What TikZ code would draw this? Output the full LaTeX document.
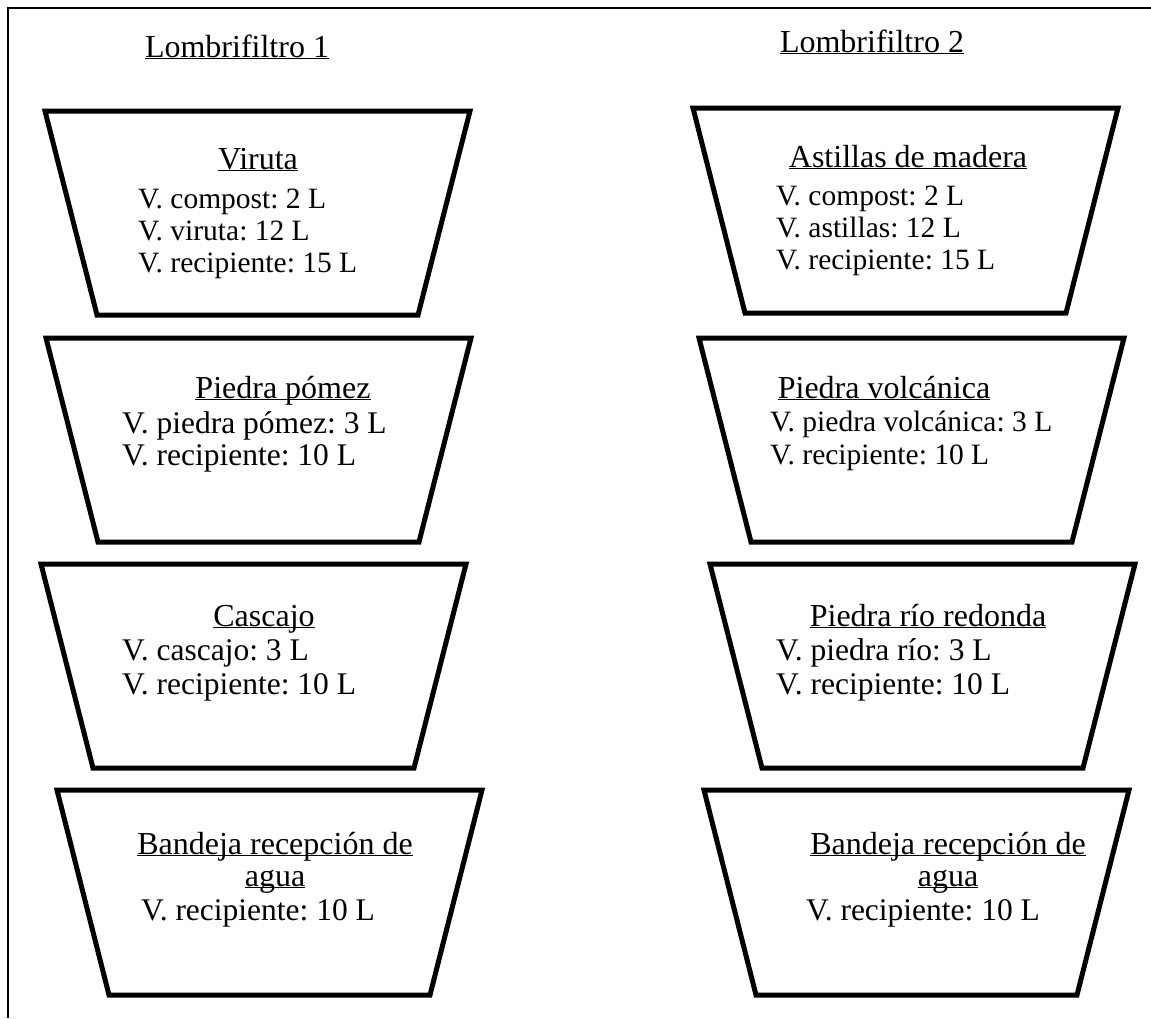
\documentclass[tikz,border=0pt]{standalone}
\usepackage{fontspec}
\setmainfont{Liberation Serif}
\usepackage{tikz}

\newcommand{\subrayado}[1]{\underline{\smash{#1}}}

\begin{document}
\frenchspacing
\begin{tikzpicture}[x=1pt,y=-1pt,
        cubeta/.style={line width=5pt},
        marco/.style={line width=1.5pt},
        titulo/.style={anchor=base,inner sep=0pt,font=\fontsize{32}{34}\selectfont},
        dato/.style={anchor=base west,inner sep=0pt,font=\fontsize{29.5}{32}\selectfont},
        datog/.style={dato,font=\fontsize{31.5}{34}\selectfont},
        datoc/.style={datog,anchor=base}]
            \useasboundingbox (0,0) rectangle (1151,1018);

            % marco
            \coordinate (M1) at (8,1018);
            \coordinate (M2) at (8,8);
            \coordinate (M3) at (1151,8);
            \draw[marco] (M1)--(M2)--(M3);

            % cubetas (todas iguales)
            \draw[cubeta] (45,111) -- ++(425,0) -- ++(-52,204) -- ++(-321,0) -- cycle;
            \draw[cubeta] (46,338) -- ++(425,0) -- ++(-52,204) -- ++(-321,0) -- cycle;
            \draw[cubeta] (41,564) -- ++(425,0) -- ++(-52,204) -- ++(-321,0) -- cycle;
            \draw[cubeta] (57,790) -- ++(425,0) -- ++(-52,205) -- ++(-321,0) -- cycle;
            \draw[cubeta] (693,108) -- ++(425,0) -- ++(-52,205) -- ++(-321,0) -- cycle;
            \draw[cubeta] (699,338) -- ++(425,0) -- ++(-52,204) -- ++(-321,0) -- cycle;
            \draw[cubeta] (710,564) -- ++(425,0) -- ++(-52,204) -- ++(-321,0) -- cycle;
            \draw[cubeta] (704,790) -- ++(425,0) -- ++(-52,205) -- ++(-321,0) -- cycle;

            % Lombrifiltro 1
            \node[titulo] (lf1) at (237,57) {\subrayado{Lombrifiltro 1}};

            \node[titulo] (vir) at (258,169) {\subrayado{Viruta}};
            \node[dato] (vir1) at (138,208) {V. compost: 2 L};
            \node[dato] (vir2) at (138,240) {V. viruta: 12 L};
            \node[dato] (vir3) at (138,272) {V. recipiente: 15 L};

            \node[titulo] (pom) at (283,398) {\subrayado{Piedra pómez}};
            \node[datog] (pom1) at (122,433) {V. piedra pómez: 3 L};
            \node[datog] (pom2) at (122,465) {V. recipiente: 10 L};

            \node[titulo] (cas) at (264,626) {\subrayado{Cascajo}};
            \node[datog] (cas1) at (122,660) {V. cascajo: 3 L};
            \node[datog] (cas2) at (122,694) {V. recipiente: 10 L};

            \node[titulo] (ban1) at (275,854) {\subrayado{Bandeja recepción de}};
            \node[titulo] (agu1) at (275,886) {\subrayado{agua}};
            \node[datoc] (ban1a) at (258,920) {V. recipiente: 10 L};

            % Lombrifiltro 2
            \node[titulo] (lf2) at (872,52) {\subrayado{Lombrifiltro 2}};

            \node[titulo] (ast) at (908,167) {\subrayado{Astillas de madera}};
            \node[dato] (ast1) at (776,205) {V. compost: 2 L};
            \node[dato] (ast2) at (776,237) {V. astillas: 12 L};
            \node[dato] (ast3) at (776,269) {V. recipiente: 15 L};

            \node[titulo] (vol) at (884,398) {\subrayado{Piedra volcánica}};
            \node[dato] (vol1) at (770,431) {V. piedra volcánica: 3 L};
            \node[dato] (vol2) at (770,464) {V. recipiente: 10 L};

            \node[titulo] (rio) at (928,626) {\subrayado{Piedra río redonda}};
            \node[datog] (rio1) at (776,660) {V. piedra río: 3 L};
            \node[datog] (rio2) at (776,694) {V. recipiente: 10 L};

            \node[titulo] (ban2) at (948,854) {\subrayado{Bandeja recepción de}};
            \node[titulo] (agu2) at (948,886) {\subrayado{agua}};
            \node[datoc] (ban2a) at (923,920) {V. recipiente: 10 L};
        \end{tikzpicture}
\end{document}
